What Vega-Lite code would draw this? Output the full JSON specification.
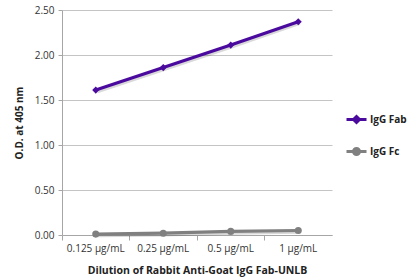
{
  "$schema": "https://vega.github.io/schema/vega-lite/v6.json",
  "width": 270,
  "height": 225,
  "autosize": {"type": "none"},
  "padding": {"left": 62, "top": 10, "right": 88, "bottom": 44},
  "background": "white",
  "config": {"font": "Open Sans", "view": {"stroke": null}},
  "data": {
    "values": [
      {"conc": "0.125 µg/mL", "series": "IgG Fab", "od": 1.61},
      {"conc": "0.25 µg/mL", "series": "IgG Fab", "od": 1.86},
      {"conc": "0.5 µg/mL", "series": "IgG Fab", "od": 2.11},
      {"conc": "1 µg/mL", "series": "IgG Fab", "od": 2.37},
      {"conc": "0.125 µg/mL", "series": "IgG Fc", "od": 0.01},
      {"conc": "0.25 µg/mL", "series": "IgG Fc", "od": 0.02},
      {"conc": "0.5 µg/mL", "series": "IgG Fc", "od": 0.04},
      {"conc": "1 µg/mL", "series": "IgG Fc", "od": 0.05}
    ]
  },
  "encoding": {
    "x": {
      "field": "conc",
      "type": "ordinal",
      "sort": ["0.125 µg/mL", "0.25 µg/mL", "0.5 µg/mL", "1 µg/mL"],
      "scale": {"type": "band", "paddingInner": 0, "paddingOuter": 0},
      "axis": {
        "title": "Dilution of Rabbit Anti-Goat IgG Fab-UNLB",
        "labelAngle": 0,
        "grid": false,
        "bandPosition": 0,
        "domainColor": "#a6a6a6",
        "tickColor": "#a6a6a6",
        "tickSize": 5,
        "labelFontSize": 10,
        "labelColor": "#333333",
        "labelPadding": 3,
        "titleFontSize": 10.5,
        "titleFontWeight": "bold",
        "titleColor": "#222222",
        "titlePadding": 12
      }
    },
    "y": {
      "field": "od",
      "type": "quantitative",
      "scale": {"domain": [0, 2.5]},
      "axis": {
        "title": "O.D. at 405 nm",
        "values": [0, 0.5, 1, 1.5, 2, 2.5],
        "format": ".2f",
        "gridColor": "#c4c4c4",
        "domainColor": "#a6a6a6",
        "tickColor": "#a6a6a6",
        "tickSize": 4,
        "labelPadding": 4,
        "labelFontSize": 10,
        "labelColor": "#333333",
        "titleFontSize": 10,
        "titleFontWeight": "bold",
        "titleColor": "#222222",
        "titlePadding": 10
      }
    },
    "color": {
      "field": "series",
      "type": "nominal",
      "scale": {"domain": ["IgG Fab", "IgG Fc"], "range": ["#4b0a9e", "#808080"]},
      "legend": null
    }
  },
  "layer": [
    {
      "mark": {"type": "line", "strokeWidth": 3.5, "xOffset": 1.5, "yOffset": 1.5, "opacity": 0.15},
      "encoding": {"color": {"value": "#000000"}, "detail": {"field": "series"}}
    },
    {
      "mark": {"type": "line", "strokeWidth": 3.2},
      "encoding": {
        "color": {
          "field": "series",
          "type": "nominal",
          "scale": {"domain": ["IgG Fab", "IgG Fc"], "range": ["#4b0a9e", "#808080"]},
          "legend": {
            "orient": "none",
            "legendX": 283,
            "legendY": 98,
            "title": null,
            "symbolType": "stroke",
            "symbolSize": 400,
            "symbolStrokeWidth": 3,
            "labelFontWeight": "bold",
            "labelFontSize": 10,
            "labelColor": "#222222",
            "rowPadding": 11,
            "labelOffset": 2,
            "encode": {
              "symbols": {
                "update": {
                  "shape": {"signal": "datum.value === 'IgG Fab' ? 'M-1,0H1M0,-0.3L0.3,0L0,0.3L-0.3,0Z' : 'M-1,0H1M0.3,0A0.3,0.3,0,1,1,-0.3,0A0.3,0.3,0,1,1,0.3,0Z'"},
                  "fill": {"signal": "scale('color', datum.value)"}
                }
              }
            }
          }
        }
      }
    },
    {
      "mark": {"type": "point", "filled": true, "size": 50, "opacity": 1},
      "encoding": {
        "shape": {
          "condition": {"test": "datum.series === 'IgG Fab'", "value": "diamond"},
          "value": "circle"
        }
      }
    }
  ]
}
